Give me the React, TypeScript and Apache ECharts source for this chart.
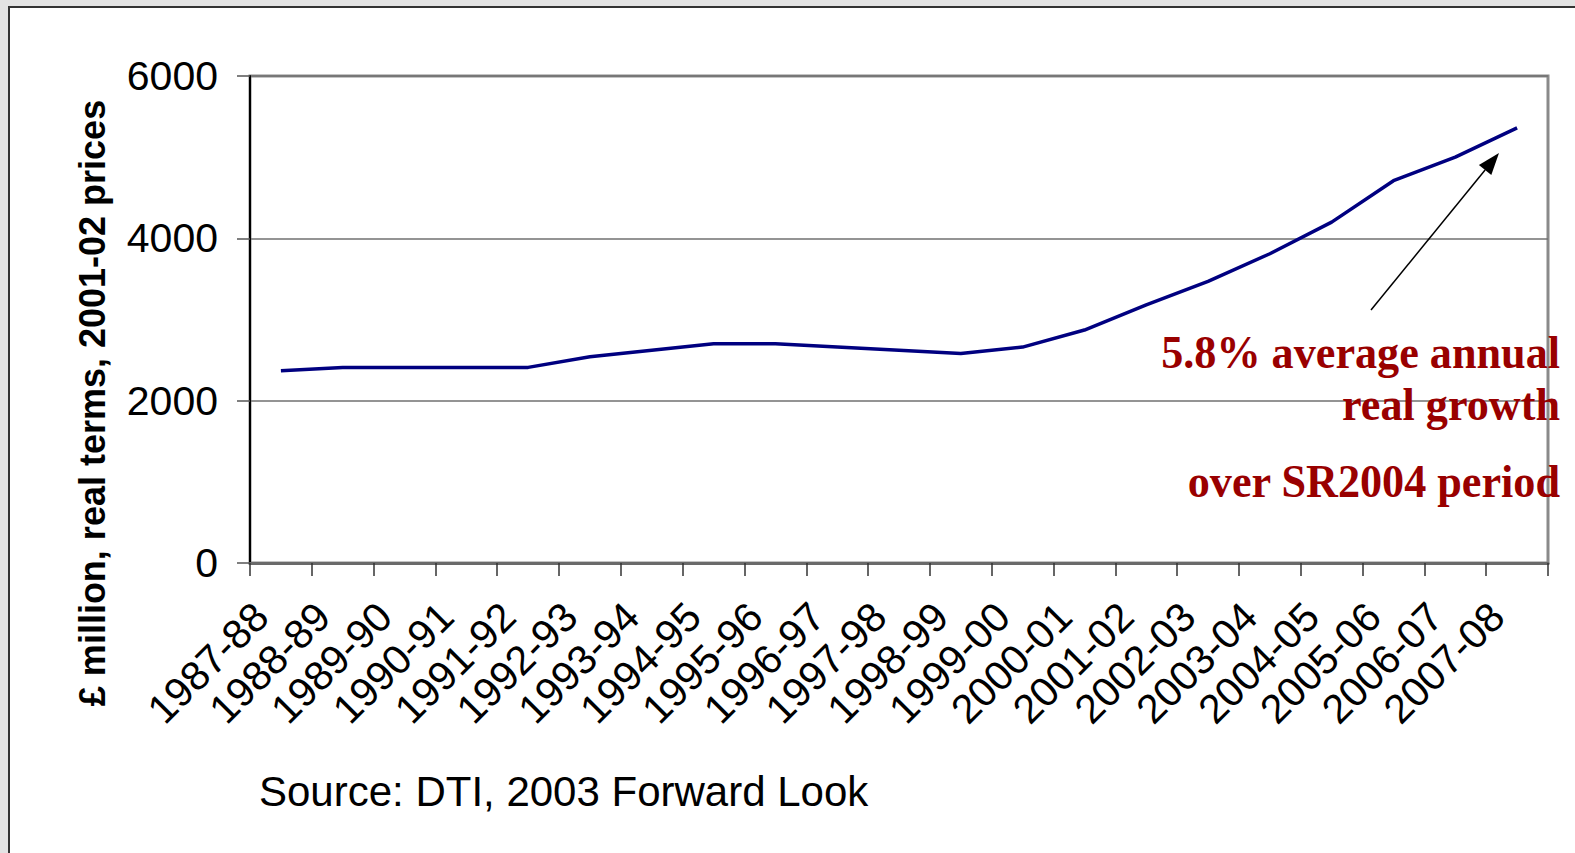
import React, { useEffect, useRef } from "react";
import * as echarts from "echarts";

const categories = [
  "1987-88", "1988-89", "1989-90", "1990-91", "1991-92", "1992-93", "1993-94",
  "1994-95", "1995-96", "1996-97", "1997-98", "1998-99", "1999-00", "2000-01",
  "2001-02", "2002-03", "2003-04", "2004-05", "2005-06", "2006-07", "2007-08",
];
const spending = [
  2370, 2410, 2410, 2410, 2410, 2540, 2620, 2700, 2700, 2660, 2620, 2580, 2660,
  2870, 3180, 3470, 3810, 4200, 4710, 5000, 5360,
];
const yTicks = { min: 0, max: 6000, interval: 2000 };
const yAxisName = "£ million, real terms, 2001-02 prices";
const sourceText = "Source: DTI, 2003 Forward Look";
const annotationLines = ["5.8% average annual", "real growth", "over SR2004 period"];

const SANS = "'Liberation Sans', Arial, Helvetica, sans-serif";
const SERIF = "'Liberation Serif', 'Times New Roman', serif";
const RED = "#990000";

function arrowGraphics(tail: [number, number], tip: [number, number]) {
  const dx = tip[0] - tail[0];
  const dy = tip[1] - tail[1];
  const len = Math.hypot(dx, dy);
  const ux = dx / len;
  const uy = dy / len;
  const headLen = 22;
  const halfW = 8;
  const bx = tip[0] - ux * headLen;
  const by = tip[1] - uy * headLen;
  const px = -uy;
  const py = ux;
  return [
    {
      type: "line",
      shape: { x1: tail[0], y1: tail[1], x2: bx, y2: by },
      style: { stroke: "#000", lineWidth: 1.5 },
      z: 10,
    },
    {
      type: "polygon",
      shape: {
        points: [
          [tip[0], tip[1]],
          [bx + px * halfW, by + py * halfW],
          [bx - px * halfW, by - py * halfW],
        ],
      },
      style: { fill: "#000" },
      z: 10,
    },
  ];
}

export default function App() {
  const ref = useRef<HTMLDivElement>(null);

  useEffect(() => {
    if (!ref.current) return;
    const chart = echarts.init(ref.current, undefined, { renderer: "svg" });
    const annY = [352, 404, 481];
    chart.setOption({
      animation: false,
      backgroundColor: "transparent",
      grid: {
        left: 250,
        top: 76,
        width: 1298,
        height: 487,
        show: true,
        borderColor: "#8a8a8a",
        borderWidth: 3,
        backgroundColor: "transparent",
        containLabel: false,
      },
      xAxis: {
        type: "category",
        data: categories,
        boundaryGap: true,
        axisLine: { show: true, lineStyle: { color: "#6a6a6a", width: 3 } },
        axisTick: { show: true, length: 13, lineStyle: { color: "#333", width: 1.5 } },
        axisLabel: {
          interval: 0,
          rotate: 45,
          margin: 27,
          color: "#000",
          fontSize: 41,
          fontFamily: SANS,
          padding: [0, 28, 0, 0],
        },
        splitLine: { show: false },
      },
      yAxis: {
        type: "value",
        min: yTicks.min,
        max: yTicks.max,
        interval: yTicks.interval,
        axisLine: { show: true, lineStyle: { color: "#000", width: 2 } },
        axisTick: { show: true, length: 13, lineStyle: { color: "#555", width: 1.5 } },
        axisLabel: {
          margin: 32,
          color: "#000",
          fontSize: 41,
          fontFamily: SANS,
          formatter: (v: number) => String(v),
        },
        splitLine: { show: true, lineStyle: { color: "#707070", width: 1.5 } },
      },
      series: [
        {
          type: "line",
          data: spending,
          symbol: "none",
          lineStyle: { color: "#000080", width: 3.5 },
          z: 3,
        },
      ],
      graphic: [
        {
          type: "text",
          x: 92,
          y: 403,
          rotation: Math.PI / 2,
          style: {
            text: yAxisName,
            font: `bold 36px ${SANS}`,
            fill: "#000",
            align: "center",
            verticalAlign: "middle",
          },
        },
        {
          type: "text",
          x: 259,
          y: 791,
          style: {
            text: sourceText,
            font: `42px ${SANS}`,
            fill: "#000",
            align: "left",
            verticalAlign: "middle",
          },
        },
        ...annotationLines.map((t, i) => ({
          type: "text",
          x: 1560,
          y: annY[i],
          scaleX: 0.94,
          z: 5,
          style: {
            text: t,
            font: `bold 47px ${SERIF}`,
            fill: RED,
            align: "right",
            verticalAlign: "middle",
          },
        })),
        ...arrowGraphics([1371, 310], [1499, 153]),
      ],
    });
    return () => chart.dispose();
  }, []);

  return (
    <div style={{ position: "fixed", left: 0, top: 0, width: 1575, height: 853, background: "#e3e3e3", overflow: "hidden" }}>
      <div
        style={{
          position: "absolute",
          left: 8,
          top: 6,
          width: 1600,
          height: 900,
          background: "#fff",
          borderLeft: "2px solid #333",
          borderTop: "2px solid #333",
        }}
      />
      <div ref={ref} style={{ position: "absolute", left: 0, top: 0, width: 1575, height: 853 }} />
    </div>
  );
}
